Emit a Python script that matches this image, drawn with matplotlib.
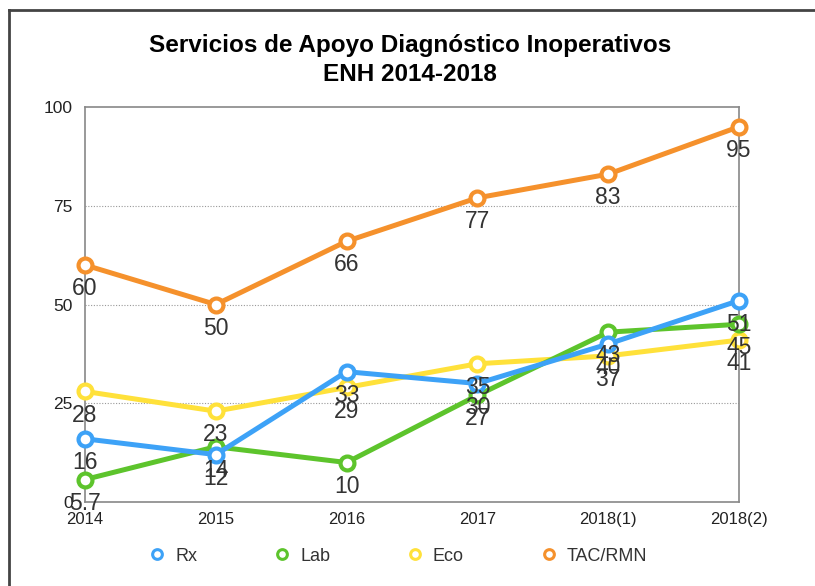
import matplotlib.pyplot as plt
from matplotlib.lines import Line2D

# datos
categorias = ["2014", "2015", "2016", "2017", "2018(1)", "2018(2)"]
rx = [16, 12, 33, 30, 40, 51]
lab = [5.7, 14, 10, 27, 43, 45]
eco = [28, 23, 29, 35, 37, 41]
tac = [60, 50, 66, 77, 83, 95]
y_ticks = [0, 25, 50, 75, 100]

series = [
    ("Eco", eco, "#FFE13A"),
    ("Lab", lab, "#5DC42C"),
    ("Rx", rx, "#3DA2F7"),
    ("TAC/RMN", tac, "#F5912C"),
]
orden_leyenda = ["Rx", "Lab", "Eco", "TAC/RMN"]

plt.rcParams["font.family"] = ["Liberation Sans", "DejaVu Sans"]

fig = plt.figure(figsize=(8.15, 5.86), dpi=100)
ax = fig.add_axes([0.1043, 0.1433, 0.8024, 0.6741])

x = list(range(len(categorias)))
for nombre, vals, color in series:
    ax.plot(x, vals, color=color, lw=3.6, marker="o", ms=10,
            mfc="white", mec=color, mew=3, solid_capstyle="round",
            clip_on=False, label=nombre, zorder=3)
    for xi, v in zip(x, vals):
        txt = f"{v:g}"
        ax.annotate(txt, (xi, v), xytext=(0, -17), textcoords="offset points",
                    ha="center", va="center", fontsize=16.5, color="#333333",
                    zorder=5, annotation_clip=False)

ax.set_xlim(0, len(categorias) - 1)
ax.set_ylim(0, 100)
ax.set_xticks(x)
ax.set_xticklabels(categorias, fontsize=12, color="#222222")
ax.set_yticks(y_ticks)
ax.set_yticklabels([str(t) for t in y_ticks], fontsize=12.5, color="#222222")
ax.tick_params(length=0)
ax.tick_params(axis="x", pad=7)
ax.tick_params(axis="y", pad=9)
for t in y_ticks[1:-1]:
    ax.axhline(t, color="#999999", lw=0.8, ls=(0, (1, 1.5)), zorder=1)
for s in ax.spines.values():
    s.set_color("#888888")
    s.set_linewidth(1.2)

fig.text(0.503, 0.898, "Servicios de Apoyo Diagnóstico Inoperativos\nENH 2014-2018",
         ha="center", va="center", fontsize=17.5, fontweight="bold",
         linespacing=1.35)

colores = {n: c for n, _, c in series}
handles = [Line2D([], [], ls="none", marker="o", ms=7, mfc="white",
                  mec=colores[n], mew=2.2) for n in orden_leyenda]
fig.legend(handles, orden_leyenda, loc="center", bbox_to_anchor=(0.488, 0.051),
           ncol=4, frameon=False, fontsize=13, handlelength=1.0,
           handletextpad=0.5, columnspacing=4.2, labelcolor="#333333")

# marco de la captura
fig.add_artist(Line2D([0.011, 0.011], [0.0, 0.983], color="#444444", lw=2))
fig.add_artist(Line2D([0.011, 1.0], [0.983, 0.983], color="#444444", lw=2))

fig.savefig("out.png", dpi=100)
